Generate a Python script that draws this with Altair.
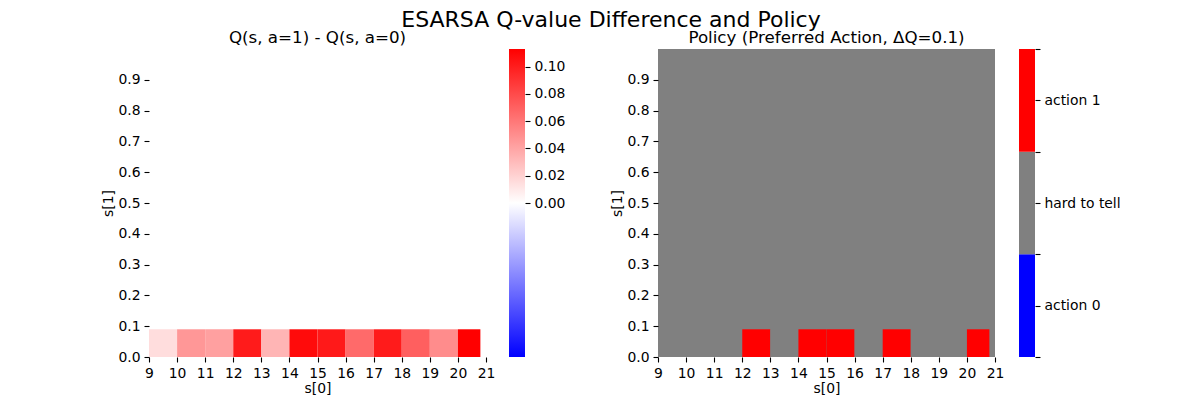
import altair as alt
import pandas as pd

# state grid (bottom row only carries values, everything above is 0)
s0_start = [9, 10, 11, 12, 13, 14, 15, 16, 17, 18, 19, 20]
s0_end = [10, 11, 12, 13, 14, 15, 16, 17, 18, 19, 20, 20.8]
s1_start = [0.0] * 12
s1_end = [0.09] * 12
q_diff = [0.015, 0.046, 0.042, 0.101, 0.033, 0.108, 0.102, 0.066, 0.101, 0.071, 0.051, 0.113]

v_max = 0.113
delta_q = 0.1

policy_labels = ["action 0", "hard to tell", "action 1"]
policy_colors = ["#0000ff", "#808080", "#ff0000"]
policy_code = [0, 1, 2]

x_ticks = list(range(9, 22))
y_ticks = [0.0, 0.1, 0.2, 0.3, 0.4, 0.5, 0.6, 0.7, 0.8, 0.9]
cbar_ticks = [0.0, 0.02, 0.04, 0.06, 0.08, 0.10]


def pick_action(d):
    if d > delta_q:
        return "action 1"
    if d < -delta_q:
        return "action 0"
    return "hard to tell"


df = pd.DataFrame({
    "s0": s0_start, "s0_end": s0_end,
    "s1": s1_start, "s1_end": s1_end,
    "diff": q_diff,
})
df["policy"] = [pick_action(d) for d in q_diff]

W, H = 337, 308

x_enc = alt.X("s0:Q", scale=alt.Scale(domain=[9, 21], nice=False, zero=False),
              axis=alt.Axis(values=x_ticks, format="d", title="s[0]", titlePadding=2,
                            labelFlush=False))
y_enc = alt.Y("s1:Q", scale=alt.Scale(domain=[0, 1], nice=False, zero=False),
              axis=alt.Axis(values=y_ticks, format=".1f", title="s[1]", titlePadding=2,
                            labelFlush=False))

# left: Q difference heatmap
left = alt.Chart(df).mark_rect().encode(
    x=x_enc, x2="s0_end:Q", y=y_enc, y2="s1_end:Q",
    color=alt.Color("diff:Q", legend=None,
                    scale=alt.Scale(domain=[-v_max, 0, v_max],
                                    range=["#0000ff", "#ffffff", "#ff0000"],
                                    interpolate="rgb")),
).properties(width=W, height=H, title="Q(s, a=1) - Q(s, a=0)")

# left colorbar (bwr gradient)
bwr = alt.LinearGradient(
    gradient="linear", x1=0, x2=0, y1=1, y2=0,
    stops=[alt.GradientStop(offset=0, color="#0000ff"),
           alt.GradientStop(offset=0.5, color="#ffffff"),
           alt.GradientStop(offset=1, color="#ff0000")])
cbar_left = alt.Chart(pd.DataFrame({"lo": [-v_max], "hi": [v_max]})).mark_rect(color=bwr).encode(
    y=alt.Y("lo:Q", scale=alt.Scale(domain=[-v_max, v_max], nice=False, zero=False),
            axis=alt.Axis(orient="right", values=cbar_ticks, format=".2f", title=None,
                          labelFlush=False)),
    y2="hi:Q",
).properties(width=16, height=H)

# right: policy map
right = alt.Chart(df).mark_rect().encode(
    x=x_enc, x2="s0_end:Q", y=y_enc, y2="s1_end:Q",
    color=alt.Color("policy:N", legend=None,
                    scale=alt.Scale(domain=policy_labels, range=policy_colors)),
).properties(width=W, height=H, title="Policy (Preferred Action, ΔQ=0.1)",
             view=alt.ViewBackground(fill="#808080", strokeWidth=0))

# right colorbar (3 discrete blocks, ticks at block edges and centres)
cb_df = pd.DataFrame({"label": policy_labels, "lo": policy_code,
                      "hi": [c + 1 for c in policy_code]})
n_cat = len(policy_labels)
label_expr = " : ".join(
    f"datum.value == {c + 0.5} ? '{lab}'" for c, lab in zip(policy_code, policy_labels)
) + " : ''"
cbar_right = alt.Chart(cb_df).mark_rect().encode(
    y=alt.Y("lo:Q", scale=alt.Scale(domain=[0, n_cat], nice=False, zero=False),
            axis=alt.Axis(orient="right", title=None, labelFlush=False,
                          values=[i * 0.5 for i in range(2 * n_cat + 1)],
                          labelExpr=label_expr)),
    y2="hi:Q",
    color=alt.Color("label:N", legend=None,
                    scale=alt.Scale(domain=policy_labels, range=policy_colors)),
).properties(width=16, height=H)

left_group = alt.hconcat(left, cbar_left, spacing=14).resolve_scale(color="independent")
right_group = alt.hconcat(right, cbar_right, spacing=15).resolve_scale(color="independent")

chart = alt.hconcat(left_group, right_group, spacing=45).resolve_scale(
    color="independent"
).properties(
    title=alt.TitleParams("ESARSA Q-value Difference and Policy", fontSize=22,
                          fontWeight="normal", anchor="middle", offset=-2),
    padding={"left": 93, "top": 1, "right": 0, "bottom": 0},
).configure(font="DejaVu Sans").configure_axis(
    labelFont="DejaVu Sans", titleFont="DejaVu Sans",
    labelFontSize=13.9, titleFontSize=13.9, titleFontWeight="normal",
    labelColor="black", titleColor="black", tickColor="black",
    tickSize=5, tickWidth=1.1, labelPadding=4,
    domain=False, grid=False,
).configure_title(
    font="DejaVu Sans", fontSize=16.7, fontWeight="normal", color="black", offset=2,
).configure_view(strokeWidth=0)

chart.save("out.html", embed_options={"renderer": "svg", "actions": False})
